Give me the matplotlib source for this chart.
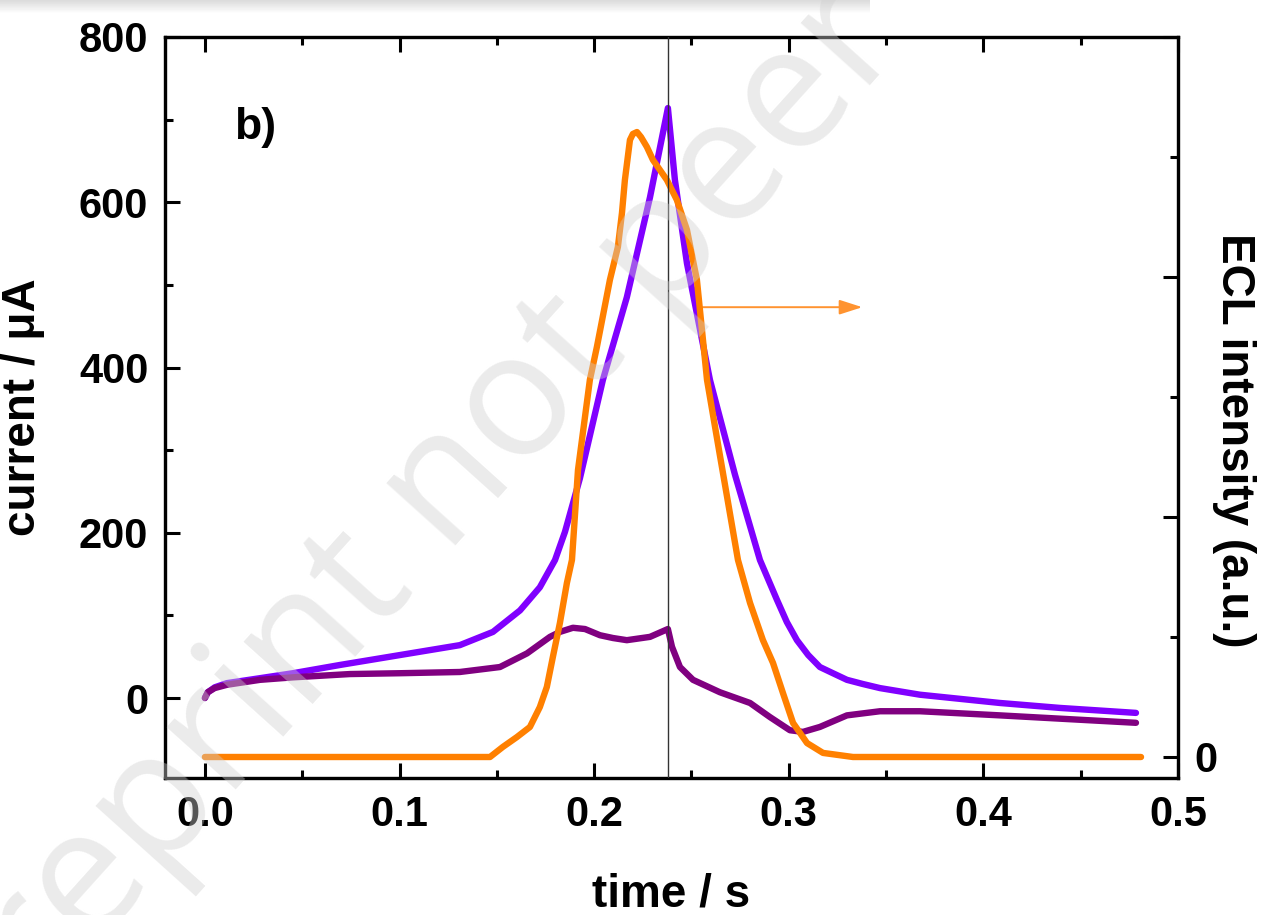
import matplotlib
matplotlib.use("Agg")
import matplotlib.pyplot as plt
from matplotlib.ticker import MultipleLocator, FixedLocator
from matplotlib.patches import FancyArrowPatch
import numpy as np

plt.rcParams['font.family'] = ['Liberation Sans', 'DejaVu Sans']
plt.rcParams['font.weight'] = 'bold'

# ---- data ----
t_cur1 = [0.0, 0.0015, 0.0051, 0.0113, 0.0283, 0.0452, 0.0694, 0.1002, 0.131, 0.148,
          0.1619, 0.1721, 0.1799, 0.185, 0.1927, 0.2045, 0.2168, 0.2287, 0.2379, 0.2415,
          0.2477, 0.2595, 0.2724, 0.2852, 0.2939, 0.299, 0.3042, 0.31, 0.316, 0.3227,
          0.3299, 0.338, 0.3469, 0.3674, 0.4085, 0.4394, 0.4784]
i_cur1 = [0, 7, 13, 18, 24, 30, 40, 52, 64, 80,
          106, 134, 167, 201, 266, 385, 485, 606, 714, 627,
          526, 385, 270, 167, 119, 92, 70, 52, 37.5, 30,
          22, 17, 12, 4, -6, -12, -18]

t_cur2 = [0.0, 0.0015, 0.005, 0.0113, 0.0283, 0.0452, 0.0745, 0.1002, 0.131, 0.1516,
          0.1655, 0.1773, 0.1824, 0.1891, 0.1953, 0.203, 0.2097, 0.2168, 0.2287, 0.2379,
          0.24, 0.2441, 0.2508, 0.2646, 0.2801, 0.2903, 0.3006, 0.3073, 0.316, 0.3299,
          0.3469, 0.3674, 0.4085, 0.4394, 0.4784]
i_cur2 = [0, 7, 12, 16, 22, 25, 29, 30, 31.5, 37.5,
          54, 74, 80, 85, 83.5, 76, 72.6, 70, 74, 83.5,
          62, 37.5, 22, 7, -6, -23, -39, -41, -35, -21,
          -16, -16, -21, -25, -30]

t_ecl = [0.0, 0.1465, 0.1531, 0.1603, 0.167, 0.1721, 0.1757, 0.1788, 0.1824, 0.186,
         0.1886, 0.1917, 0.1978, 0.2014, 0.2081, 0.2122, 0.2143, 0.2158, 0.2184, 0.2199,
         0.222, 0.2241, 0.2271, 0.2302, 0.2374, 0.2425, 0.2477, 0.2528, 0.258, 0.2646,
         0.2739, 0.2801, 0.2867, 0.2919, 0.297, 0.3022, 0.3094, 0.3176, 0.333, 0.481]
ecl = [0, 0, 0.042, 0.083, 0.125, 0.208, 0.292, 0.417, 0.558, 0.725,
       0.821, 1.196, 1.571, 1.708, 1.988, 2.125, 2.267, 2.404, 2.571, 2.596,
       2.604, 2.583, 2.542, 2.488, 2.404, 2.321, 2.196, 1.988, 1.571, 1.258,
       0.821, 0.642, 0.4875, 0.392, 0.267, 0.142, 0.058, 0.017, 0, 0]

x_ticks = [0.0, 0.1, 0.2, 0.3, 0.4, 0.5]
x_ticklabels = ['0.0', '0.1', '0.2', '0.3', '0.4', '0.5']
y_ticks = [0, 200, 400, 600, 800]
y2_ticks = [0, 1, 2, 3]
y2_ticklabels = ['0', '', '', '']

t_switch = 0.238
arrow_x = [0.2528, 0.3392]
arrow_y = 473

# ---- figure ----
fig = plt.figure(figsize=(12.61, 9.15), dpi=100)
ax = fig.add_axes([165/1261, 1-778/915, (1178-165)/1261, (778-37)/915])
ax2 = ax.twinx()

lkw = dict(lw=4.6, solid_capstyle='round', solid_joinstyle='round', zorder=3)
ax.plot(t_cur1, i_cur1, color='#8000FF', **lkw)
ax.plot(t_cur2, i_cur2, color='#800080', **lkw)
ax2.plot(t_ecl, ecl, color='#FF8000', **lkw)
ax2.axvline(t_switch, color='#333333', lw=1.0, zorder=4)

arr = FancyArrowPatch((arrow_x[0], arrow_y), (arrow_x[1], arrow_y),
                      arrowstyle='-|>,head_length=14,head_width=4.5',
                      mutation_scale=1.0, color='#FF9330', lw=1.4)
ax.add_patch(arr)

ax.set_xlim(-0.0205, 0.5)
ax.set_ylim(-96.8, 800)
ax2.set_ylim(-0.0875, 3.0)

ax.set_xticks(x_ticks)
ax.set_xticklabels(x_ticklabels)
ax.xaxis.set_minor_locator(MultipleLocator(0.05))
ax.set_yticks(y_ticks)
ax.yaxis.set_minor_locator(MultipleLocator(100))
ax2.set_yticks(y2_ticks)
ax2.set_yticklabels(y2_ticklabels)
ax2.yaxis.set_minor_locator(FixedLocator([0.5, 1.5, 2.5]))

for a in (ax, ax2):
    for s in a.spines.values():
        s.set_linewidth(2.3)

ax.tick_params(axis='x', which='both', direction='in', top=True, bottom=True,
               labelsize=30, pad=12, width=2.2)
ax.tick_params(axis='y', which='both', direction='in', left=True, right=False,
               labelsize=30, pad=12, width=2.2)
ax.tick_params(which='major', length=11)
ax.tick_params(which='minor', length=6)
ax2.tick_params(axis='y', which='both', direction='in', right=True, left=False,
                labelsize=30, pad=12, width=2.2)
ax2.tick_params(which='major', length=11)
ax2.tick_params(which='minor', length=6)

ax.set_xlabel('time / s', fontsize=33, fontweight='bold')
ax.xaxis.set_label_coords(0.5, -0.128)
ax.set_ylabel('current / μA', fontsize=33, fontweight='bold')
ax.yaxis.set_label_coords(-0.118, 0.5)
fig.text(1234/1261, 1-440/915, 'ECL intensity (a.u.)', rotation=270, fontsize=33,
         fontweight='bold', ha='center', va='center')

ax.text(0.0257, 690, 'b)', fontsize=32, fontweight='bold', ha='center', va='center')

# top shadow band
band = fig.add_axes([0, 1-14/915, 870/1261, 14/915])
grad = np.linspace(0.86, 1.0, 14).reshape(-1, 1)
band.imshow(np.repeat(grad, 10, axis=1), cmap='gray', vmin=0, vmax=1, aspect='auto')
band.axis('off')

# watermark
fig.text(668/1261, 1-242/915, 'Preprint not peer reviewed', rotation=48,
         fontsize=125, family='Open Sans', fontweight='normal', color='#cfcfcf',
         alpha=0.42, ha='center', va='center', rotation_mode='anchor', zorder=10)

fig.savefig('out.png', dpi=100)
